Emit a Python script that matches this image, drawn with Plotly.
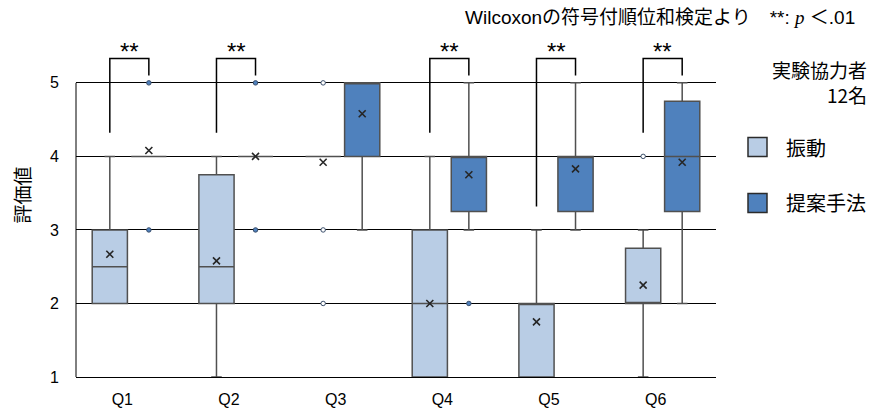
import plotly.graph_objects as go

# ---- data -------------------------------------------------------------
categories = ["Q1", "Q2", "Q3", "Q4", "Q5", "Q6"]

# 振動 (vibration) condition: box statistics per question
vib_q1 = [2, 2, 4, 1, 1, 2]
vib_median = [2.5, 2.5, 4, 2, 2, 2]
vib_q3 = [3, 3.75, 4, 3, 2, 2.75]
vib_lower = [2, 1, 4, 1, 1, 1]
vib_upper = [4, 4, 4, 4, 3, 3]
vib_mean = [2.67, 2.58, 3.92, 2.0, 1.75, 2.25]
vib_outliers = [[], [], [5, 3, 2], [], [], [4]]

# 提案手法 (proposed method) condition
pro_q1 = [4, 4, 4, 3.25, 3.25, 3.25]
pro_median = [4, 4, 5, 4, 4, 4]
pro_q3 = [4, 4, 5, 4, 4, 4.75]
pro_lower = [4, 4, 3, 3, 3, 2]
pro_upper = [4, 4, 5, 5, 5, 5]
pro_mean = [4.08, 4.0, 4.58, 3.75, 3.83, 3.92]
pro_outliers = [[5, 3], [5, 3], [], [2], [], []]

# questions with a significant difference (Wilcoxon signed-rank, p < .01)
sig_questions = ["Q1", "Q2", "Q4", "Q5", "Q6"]
sig_label = "**"

y_ticks = [1, 2, 3, 4, 5]

# ---- styling ----------------------------------------------------------
LIGHT = "#B9CDE5"
DARK = "#4F81BD"
EDGE = "#505050"
CJK = "Noto Sans CJK JP"
LATIN = "Liberation Sans, Noto Sans CJK JP"

OFFSET = 0.183      # half distance between paired boxes (category units)
BOX_W = 0.33

# plot area in pixels (used to place paper-referenced decorations)
W, H = 871, 408
L, R, T, B = 76, 155, 13, 31
PW, PH = W - L - R, H - T - B


def px(x):
    return (x - L) / PW


def py(y):
    return (H - B - y) / PH


idx = list(range(len(categories)))
vib_x = [i - OFFSET for i in idx]
pro_x = [i + OFFSET for i in idx]

fig = go.Figure()


def add_series(xs, q1, med, q3, lo, hi, mean, outs, fill, out_fill, name):
    fig.add_trace(go.Box(
        x=xs, q1=q1, median=med, q3=q3, lowerfence=lo, upperfence=hi,
        width=BOX_W, whiskerwidth=0.3, boxpoints=False,
        fillcolor=fill, line=dict(color=EDGE, width=1.5),
        name=name, showlegend=False, hoverinfo="skip",
    ))
    # mean markers
    fig.add_trace(go.Scatter(
        x=xs, y=mean, mode="markers", showlegend=False, hoverinfo="skip",
        marker=dict(symbol="x-thin", size=7,
                    line=dict(color="#262626", width=1.6)),
    ))
    # outliers
    ox, oy = [], []
    for x, vals in zip(xs, outs):
        for v in vals:
            ox.append(x)
            oy.append(v)
    fig.add_trace(go.Scatter(
        x=ox, y=oy, mode="markers", showlegend=False, hoverinfo="skip",
        marker=dict(symbol="circle", size=4.5, color=out_fill,
                    line=dict(color="#3b4f6b", width=1)),
    ))


add_series(vib_x, vib_q1, vib_median, vib_q3, vib_lower, vib_upper,
           vib_mean, vib_outliers, LIGHT, "white", "振動")
add_series(pro_x, pro_q1, pro_median, pro_q3, pro_lower, pro_upper,
           pro_mean, pro_outliers, DARK, DARK, "提案手法")

shapes = []
annotations = []

# left axis line, only over the tick range
shapes.append(dict(type="line", xref="paper", yref="y", x0=0, x1=0,
                   y0=y_ticks[0], y1=y_ticks[-1],
                   line=dict(color="black", width=1)))

# significance brackets
BRACKET_TOP = 5.33
for q in sig_questions:
    i = categories.index(q)
    left_base = max([vib_upper[i]] + vib_outliers[i]) + 0.32
    right_base = max([pro_upper[i]] + pro_outliers[i]) + 0.1
    shapes.append(dict(
        type="path", xref="x", yref="y",
        path=(f"M {vib_x[i]} {left_base} L {vib_x[i]} {BRACKET_TOP} "
              f"L {pro_x[i]} {BRACKET_TOP} L {pro_x[i]} {right_base}"),
        line=dict(color="black", width=1.5),
    ))
    annotations.append(dict(
        x=i, y=BRACKET_TOP + 0.1, xref="x", yref="y", text=sig_label,
        showarrow=False, yanchor="middle",
        font=dict(family=LATIN, size=24, color="black"),
    ))

# header note
annotations.append(dict(
    x=px(857), y=py(18), xref="paper", yref="paper", xanchor="right",
    yanchor="middle", showarrow=False,
    text=("Wilcoxonの符号付順位和検定より　**: "
          "<span style='font-family:Liberation Serif;font-style:italic'>p</span>"
          " ＜.01"),
    font=dict(family=LATIN, size=19, color="black"),
))

# participants note
annotations.append(dict(
    x=px(869), y=py(82), xref="paper", yref="paper", xanchor="right",
    yanchor="middle", showarrow=False, align="right",
    text="実験協力者<br>12名",
    font=dict(family=CJK, size=19, color="black"),
))

# legend (swatch + label)
for fill, label, cy in [(LIGHT, "振動", 147), (DARK, "提案手法", 203)]:
    shapes.append(dict(
        type="rect", xref="paper", yref="paper",
        x0=px(748), x1=px(767), y0=py(cy - 9.5), y1=py(cy + 9.5),
        fillcolor=fill, line=dict(color="#2b2b2b", width=1.5),
    ))
    annotations.append(dict(
        x=px(784), y=py(cy), xref="paper", yref="paper", xanchor="left",
        yanchor="middle", showarrow=False, text=label,
        font=dict(family=CJK, size=20, color="black"),
    ))

fig.update_layout(
    width=W, height=H,
    margin=dict(l=L, r=R, t=T, b=B, pad=0, autoexpand=False),
    paper_bgcolor="white", plot_bgcolor="white",
    shapes=shapes, annotations=annotations,
    font=dict(family=LATIN, color="black"),
    xaxis=dict(
        range=[-0.5, len(categories) - 0.5],
        tickvals=idx, ticktext=categories,
        showgrid=False, zeroline=False,
        showline=True, linecolor="black", linewidth=1,
        ticks="", ticklabelstandoff=8, ticklabelshift=-7,
        tickfont=dict(family=LATIN, size=16, color="black"),
        automargin=False, fixedrange=True,
    ),
    yaxis=dict(
        range=[1, 5.95], tickvals=y_ticks,
        showgrid=True, gridcolor="black", gridwidth=1,
        zeroline=False, showline=False, ticks="",
        ticklabelstandoff=16,
        tickfont=dict(family=LATIN, size=16, color="black"),
        title=dict(text="評価値", standoff=14,
                   font=dict(family=CJK, size=19, color="black")),
        automargin=False, fixedrange=True,
    ),
)

fig.write_html("out.html")
